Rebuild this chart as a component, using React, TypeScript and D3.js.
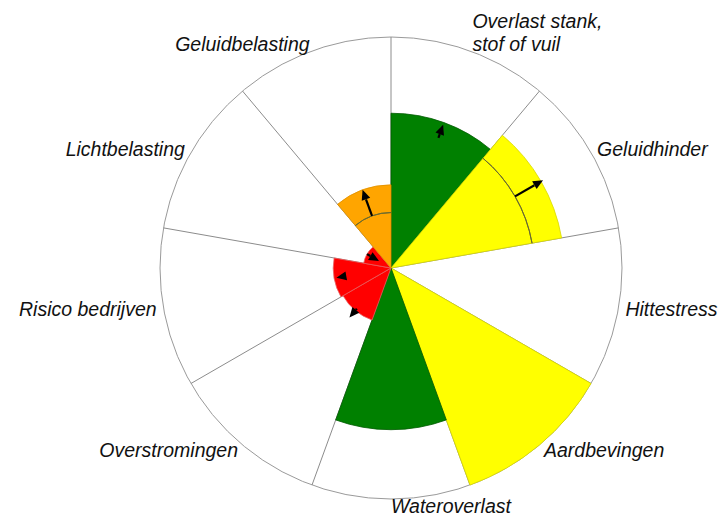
import { useMemo } from "react";
import * as d3 from "d3";

// categories clockwise from 12 o'clock
const categories = [
  "Overlast stank,\nstof of vuil",
  "Geluidhinder",
  "Hittestress",
  "Aardbevingen",
  "Wateroverlast",
  "Overstromingen",
  "Risico bedrijven",
  "Lichtbelasting",
  "Geluidbelasting",
];
// score 0-100 (radius of the wedge)
const scores = [67, 75, 0, 100, 70, 24, 25, 12, 36];
const levels = ["goed", "matig", "geen", "matig", "goed", "slecht", "slecht", "slecht", "onvoldoende"];
// earlier score (dashed reference arc)
const previous = [null, 62, null, null, null, null, null, null, 24];
// trend arrows: from -> to
const trendFrom = [60, 62, null, null, null, 23, 20, 12, 24];
const trendTo = [66, 76, null, null, null, 28, 24, 6, 36];

const levelColor = d3
  .scaleOrdinal<string, string>()
  .domain(["goed", "matig", "onvoldoende", "slecht", "geen"])
  .range(["#008000", "#ffff00", "#ffa500", "#ff0000", "none"]);
const levelStroke = d3
  .scaleOrdinal<string, string>()
  .domain(["goed", "matig", "onvoldoende", "slecht", "geen"])
  .range(["#005a00", "#d8d800", "#e09000", "#e86060", "none"]);

const W = 720;
const H = 524;
const cx = 391;
const cy = 268;
const outer = 231;

export default function App() {
  const n = categories.length;
  const step = (2 * Math.PI) / n;
  const r = useMemo(() => d3.scaleLinear().domain([0, 100]).range([0, outer]), []);
  const arc = d3.arc<any>();

  const pt = (a: number, rad: number) => [rad * Math.sin(a), -rad * Math.cos(a)];

  return (
    <svg width={W} height={H} style={{ position: "absolute", left: 0, top: 0, background: "#fff" }}>
      <g transform={`translate(${cx},${cy})`}>
        {/* grid */}
        <circle r={outer} fill="#fff" stroke="#9a9a9a" strokeWidth={1} />
        {categories.map((c, i) => {
          const [x, y] = pt(i * step, outer);
          return <line key={"g" + i} x1={0} y1={0} x2={x} y2={y} stroke="#8c8c8c" strokeWidth={1} />;
        })}

        {/* wedges */}
        {scores.map((s, i) =>
          s > 0 ? (
            <path
              key={"w" + i}
              d={arc({ innerRadius: 0, outerRadius: r(s), startAngle: i * step, endAngle: (i + 1) * step }) || ""}
              fill={levelColor(levels[i])}
              stroke={levelStroke(levels[i])}
              strokeWidth={0.8}
            />
          ) : null
        )}

        {/* previous-score arcs */}
        {previous.map((p, i) =>
          p == null ? null : (
            <path
              key={"p" + i}
              d={
                d3.arc()({ innerRadius: r(p), outerRadius: r(p), startAngle: i * step, endAngle: (i + 1) * step }) || ""
              }
              fill="none"
              stroke="#6a6a30"
              strokeWidth={1}
            />
          )
        )}

        {/* trend arrows */}
        {trendFrom.map((f, i) => {
          const t = trendTo[i];
          if (f == null || t == null) return null;
          const a = (i + 0.5) * step;
          const dir = t > f ? 1 : -1;
          const head = 10;
          const tip = r(t);
          const base = tip - dir * head;
          const [x0, y0] = pt(a, r(f));
          const [x1, y1] = pt(a, base);
          const [tx, ty] = pt(a, tip);
          const ux = Math.sin(a);
          const uy = -Math.cos(a);
          const px = -uy * 4.5;
          const py = ux * 4.5;
          const showLine = (base - r(f)) * dir > 0;
          return (
            <g key={"a" + i}>
              {showLine && <line x1={x0} y1={y0} x2={x1} y2={y1} stroke="#000" strokeWidth={2.2} />}
              <path d={`M${tx},${ty}L${x1 + px},${y1 + py}L${x1 - px},${y1 - py}Z`} fill="#000" />
            </g>
          );
        })}

        {/* labels */}
        {categories.map((c, i) => {
          const a = (i + 0.5) * step;
          const [x, y] = pt(a, 238);
          const lines = c.split("\n");
          const anchor = Math.sin(a) >= -1e-6 ? "start" : "end";
          return (
            <text
              key={"l" + i}
              x={x}
              y={y - (lines.length - 1) * 23}
              textAnchor={anchor}
              fontFamily="'Liberation Sans', Arial, sans-serif"
              fontStyle="italic"
              fontSize={19.5}
              fill="#111"
            >
              {lines.map((ln, k) => (
                <tspan key={k} x={x} dy={k === 0 ? "0.35em" : 23}>
                  {ln}
                </tspan>
              ))}
            </text>
          );
        })}
      </g>
    </svg>
  );
}
